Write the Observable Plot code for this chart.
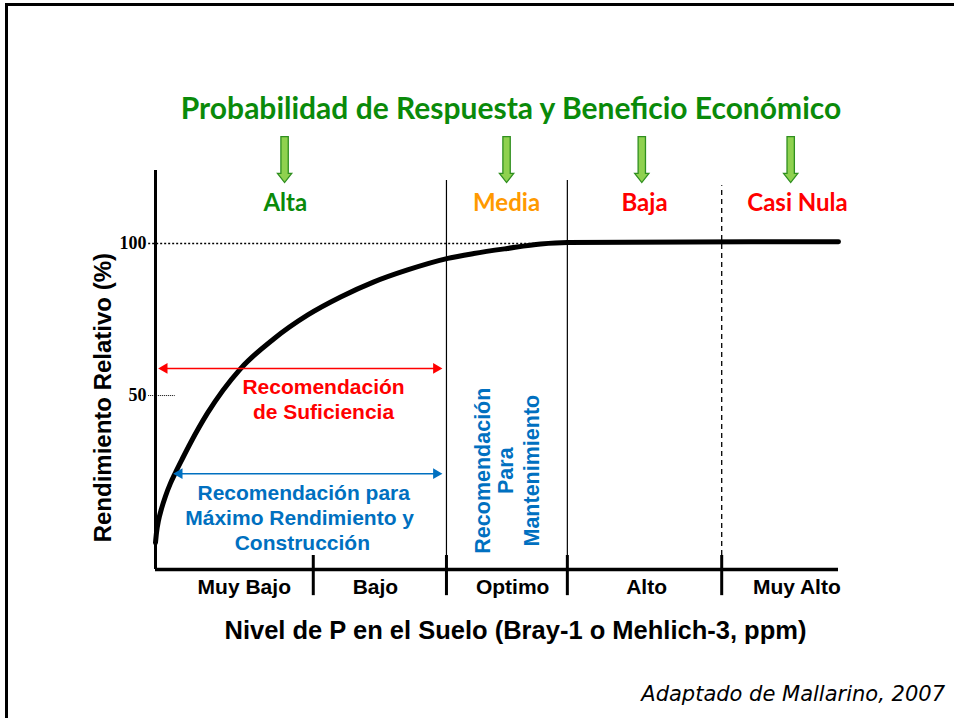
<!DOCTYPE html>
<html><head><meta charset="utf-8">
<script src="https://cdn.jsdelivr.net/npm/d3@7"></script>
<script src="https://cdn.jsdelivr.net/npm/@observablehq/plot@0.6"></script>
<style>
body{margin:0;width:954px;height:718px;overflow:hidden;position:relative;background:#fff;font-family:"Liberation Sans",Arial,sans-serif}
#frame{position:absolute;left:5px;top:3px;width:1000px;height:800px;border-top:3px solid #000;border-left:3px solid #000}
#title{position:absolute;top:89px;left:111px;width:800px;text-align:center;font:700 30px Lato,sans-serif;color:#0a8a0a;white-space:nowrap}
#chart{position:absolute;top:128px;left:0}
#caption{position:absolute;top:682px;right:9px;font:italic 21px "DejaVu Sans",sans-serif;color:#000}
</style></head>
<body>
<div id="frame"></div>
<div id="title">Probabilidad de Respuesta y Beneficio Económico</div>
<div id="chart"></div>
<div id="caption">Adaptado de Mallarino, 2007</div>
<script>
// Response curve (conceptual soil P level 0-100 vs relative yield %)
const soilP = [0, 0.146, 0.44, 0.88, 1.46, 2.2, 2.93, 3.95, 5.12, 7.61, 12.4, 17.3, 22.3, 27.1, 31.9, 36.9, 42.8, 46.6, 51.5, 56.4, 60.3, 100];
const relYield = [1.64, 4.93, 8.88, 12.8, 16.9, 21.2, 24.7, 29.3, 34.4, 44.2, 58.7, 68.6, 76.5, 82.4, 87.3, 91.3, 95.1, 96.7, 98.35, 99.8, 100.3, 100.6];

// Response probability zones
const zoneNames = ["Alta", "Media", "Baja", "Casi Nula"];
const zoneX = [19.0, 51.4, 71.6, 94.0];
const zoneColors = ["#0a8a0a", "#ff9900", "#ff0000", "#ff0000"];
const arrowX = [18.9, 51.4, 71.2, 93.0];

// Soil test classes
const classNames = ["Muy Bajo", "Bajo", "Optimo", "Alto", "Muy Alto"];
const classX = [13.0, 32.2, 52.3, 71.9, 93.9];
const classTicks = [23.1, 42.6, 60.3, 82.9];
const solidBounds = [42.6, 60.3];
const dashedBounds = [82.9];

// Y ticks
const yTicks = [100, 50];
const yTickLabels = ["100", "50"];

// Recommendation ranges
const sufRange = [0.7, 41.7];
const maxRange = [2.9, 41.7];
const sufLines = ["Recomendación", "de Suficiencia"];
const maxLines = ["Recomendación para", "Máximo Rendimiento y", "Construcción"];
const mantLines = ["Recomendación", "Para", "Mantenimiento"];

const curve = soilP.map((x, i) => ({x, y: relYield[i]}));
const zones = zoneNames.map((n, i) => ({n, x: zoneX[i], c: zoneColors[i], ax: arrowX[i]}));
const classes = classNames.map((n, i) => ({n, x: classX[i]}));

const blockArrow = {
  draw(ctx, size) {
    const r = Math.sqrt(size / Math.PI);
    const sw = 0.16 * r, hw = 0.31 * r, hs = 0.6 * r;
    ctx.moveTo(-sw, -r); ctx.lineTo(sw, -r); ctx.lineTo(sw, hs); ctx.lineTo(hw, hs);
    ctx.lineTo(0, r); ctx.lineTo(-hw, hs); ctx.lineTo(-sw, hs); ctx.closePath();
  }
};

const RED = "#ff0000", BLUE = "#0070c0";
const sans = "Liberation Sans, Arial, sans-serif";
const cal = "Lato, sans-serif";

const chart = Plot.plot({
  width: 954, height: 530,
  marginLeft: 155, marginRight: 116, marginTop: 42, marginBottom: 89,
  x: {domain: [0, 100], axis: null},
  y: {domain: [-7.2, 124], axis: null},
  style: {overflow: "visible", background: "transparent"},
  marks: [
    // reference dotted lines
    Plot.ruleY([yTicks[0]], {x1: -1, x2: 60.3, stroke: "#000", strokeWidth: 1.5, strokeDasharray: "2,2"}),
    Plot.ruleY([yTicks[1]], {x1: -1, x2: 2.9, stroke: "#000", strokeWidth: 1, strokeDasharray: "1,1"}),
    Plot.text(yTickLabels, {x: -1.3, y: yTicks, text: d => d, textAnchor: "end", fontFamily: "Liberation Serif, serif", fontWeight: "bold", fontSize: 18, fill: "#000"}),
    // zone boundaries
    Plot.ruleX(solidBounds, {y1: -7.2, y2: 120.7, stroke: "#000", strokeWidth: 1.2}),
    Plot.ruleX(dashedBounds, {y1: -2.6, y2: 119, stroke: "#000", strokeWidth: 1.3, strokeDasharray: "5,4"}),
    Plot.ruleX(classTicks, {y1: -2.6, y2: -15.8, stroke: "#000", strokeWidth: 3}),
    // axes
    Plot.ruleX([0], {y1: -7.2, y2: 124, stroke: "#000", strokeWidth: 3}),
    Plot.ruleY([-7.2], {x1: 0, x2: 100, stroke: "#000", strokeWidth: 3.5}),
    // response curve
    Plot.line(curve, {x: "x", y: "y", curve: "monotone-x", stroke: "#000", strokeWidth: 5}),
    // green block arrows
    Plot.dot(zones, {x: "ax", y: 127.6, r: 23, symbol: blockArrow, fill: "#8fd14f", stroke: "#2f8f1f", strokeWidth: 1.3}),
    Plot.text(zones, {x: "x", y: 113.2, text: "n", fill: "c", fontFamily: cal, fontWeight: "bold", fontSize: 24}),
    // sufficiency arrow
    Plot.ruleY([58.9], {x1: sufRange[0] + 0.8, x2: sufRange[1] - 0.8, stroke: RED, strokeWidth: 1.6}),
    Plot.dot([sufRange[0]], {x: d => d + 0.6, y: 58.9, symbol: "triangle", rotate: -90, r: 4, fill: RED}),
    Plot.dot([sufRange[1]], {x: d => d - 0.6, y: 58.9, symbol: "triangle", rotate: 90, r: 4, fill: RED}),
    Plot.text(sufLines, {x: [24.6, 24.6], y: [52.6, 44.4], text: d => d, fill: RED, fontFamily: sans, fontWeight: "bold", fontSize: 21}),
    // max yield arrow
    Plot.ruleY([24.3], {x1: maxRange[0] + 0.8, x2: maxRange[1] - 0.8, stroke: BLUE, strokeWidth: 1.6}),
    Plot.dot([maxRange[0]], {x: d => d + 0.6, y: 24.3, symbol: "triangle", rotate: -90, r: 4, fill: BLUE}),
    Plot.dot([maxRange[1]], {x: d => d - 0.6, y: 24.3, symbol: "triangle", rotate: 90, r: 4, fill: BLUE}),
    Plot.text(maxLines, {x: [21.7, 21.1, 21.5], y: [17.8, 9.5, 1.3], text: d => d, fill: BLUE, fontFamily: sans, fontWeight: "bold", fontSize: 21}),
    // maintenance (vertical)
    Plot.text(mantLines, {x: [48.0, 51.4, 55.1], y: 25.3, text: d => d, rotate: -90, fill: BLUE, fontFamily: sans, fontWeight: "bold", fontSize: 21.5}),
    // class labels
    Plot.text(classes, {x: "x", y: -13.2, text: "n", fill: "#000", fontFamily: sans, fontWeight: "bold", fontSize: 21}),
    // axis titles
    Plot.text(["Nivel de P en el Suelo (Bray-1 o Mehlich-3, ppm)"], {x: 52.7, y: -27.3, text: d => d, fill: "#000", fontFamily: sans, fontWeight: "bold", fontSize: 25.5}),
    Plot.text(["Rendimiento Relativo (%)"], {x: -7.6, y: 49.3, text: d => d, rotate: -90, fill: "#000", fontFamily: sans, fontWeight: "bold", fontSize: 24})
  ]
});
document.getElementById("chart").appendChild(chart);
</script>
</body></html>
